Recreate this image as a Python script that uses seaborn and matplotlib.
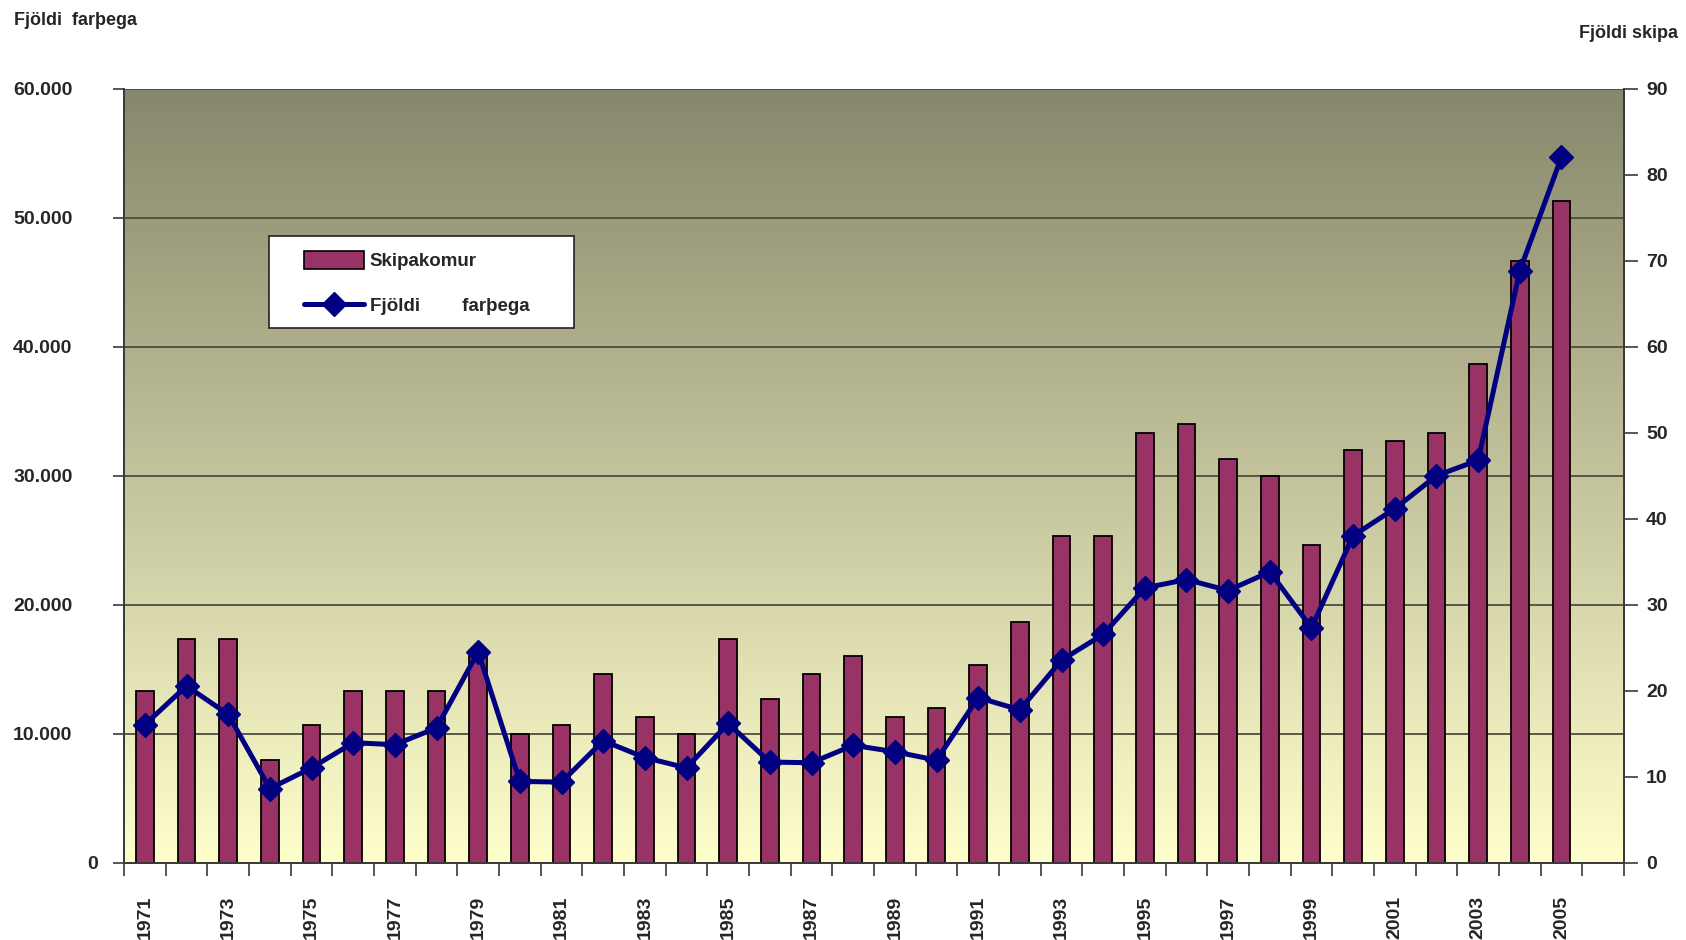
import numpy as np
import pandas as pd
import matplotlib
matplotlib.use("Agg")
import matplotlib.pyplot as plt
import seaborn as sns
from matplotlib.patches import Rectangle, Patch
from matplotlib.lines import Line2D
from matplotlib.transforms import ScaledTranslation

# ---------------- data ----------------
years = list(range(1971, 2006))
ships = [20, 26, 26, 12, 16, 20, 20, 20, 24, 15, 16, 22, 17, 15, 26, 19, 22, 24,
         17, 18, 23, 28, 38, 38, 50, 51, 47, 45, 37, 48, 49, 50, 58, 70, 77]
passengers = [10700, 13700, 11500, 5750, 7350, 9300, 9150, 10450, 16350, 6300,
              6250, 9450, 8150, 7350, 10800, 7800, 7750, 9100, 8600, 7950,
              12800, 11850, 15700, 17700, 21300, 21950, 21100, 22550, 18200,
              25350, 27450, 30000, 31200, 45900, 54700]
categories = [str(y) for y in range(1971, 2007)]  # last slot empty
left_ticks = [0, 10000, 20000, 30000, 40000, 50000, 60000]
right_ticks = [0, 10, 20, 30, 40, 50, 60, 70, 80, 90]
label_bars = "Skipakomur"
label_line = "Fjöldi        farþega"
title_left = "Fjöldi  farþega"
title_right = "Fjöldi skipa"

df = pd.DataFrame({"year": [str(y) for y in years], "ships": ships,
                   "passengers": passengers, "pos": np.arange(len(years))})

# ---------------- style ----------------
sns.set_theme(style="white")
plt.rcParams["font.family"] = ["Liberation Sans", "DejaVu Sans"]
plt.rcParams["font.weight"] = "bold"

W, H, DPI = 1686, 940, 100
fig = plt.figure(figsize=(W / DPI, H / DPI), dpi=DPI)
L, R, B, T = 124, 1624, 862.7, 88.7
ax = fig.add_axes([L / W, 1 - B / H, (R - L) / W, (B - T) / H])
ax2 = ax.twinx()

BAR_C = "#993366"
LINE_C = "#000080"
GRID_C = "#4d4d40"
SPINE_C = "#3a3a3a"
TICK_FS = 14

# background gradient
grad = np.linspace(0, 1, 256).reshape(-1, 1)
top_c = np.array([135, 135, 108]) / 255
bot_c = np.array([255, 255, 204]) / 255
img = (top_c * (1 - grad[..., None]) + bot_c * grad[..., None])  # row0 = top
ax.imshow(img, extent=(-0.5, 35.5, 0, 90), aspect="auto", origin="upper",
          zorder=0, interpolation="bicubic")

# gridlines (left-axis steps mapped to right scale)
for t in left_ticks[1:]:
    ax.axhline(t * 90 / 60000, color=GRID_C, lw=1.3, zorder=1)

# bars (right axis scale)
sns.barplot(data=df, x="year", y="ships", order=categories, ax=ax,
            color=BAR_C, saturation=1, width=0.42, edgecolor="black",
            linewidth=1.3, zorder=2, errorbar=None)

# line (left axis scale)
sns.lineplot(data=df, x="pos", y="passengers", ax=ax2, color=LINE_C,
             linewidth=3.6, marker="D", markersize=12, markeredgecolor=LINE_C,
             markeredgewidth=1, zorder=3)

# limits
ax.set_xlim(-0.5, 35.5)
ax.set_ylim(0, 90)
ax2.set_ylim(0, 60000)
ax2.set_xlim(-0.5, 35.5)

# axis positions: bars axis on right, line axis on left
ax.yaxis.tick_right()
ax.yaxis.set_label_position("right")
ax2.yaxis.tick_left()
ax2.yaxis.set_label_position("left")
for a in (ax, ax2):
    a.set_xlabel("")
    a.set_ylabel("")

ax.set_yticks(right_ticks)
ax.set_yticklabels([str(v) for v in right_ticks])
ax2.set_yticks(left_ticks)
ax2.set_yticklabels([f"{v:,}".replace(",", ".") for v in left_ticks])

# x ticks: labels on odd years at centers, tick marks at boundaries
label_pos = [i for i, c in enumerate(categories) if int(c) % 2 == 1 and int(c) <= 2005]
ax.set_xticks(label_pos)
ax.set_xticklabels([categories[i] for i in label_pos], rotation=90,
                   fontsize=TICK_FS, fontweight="bold")
ax.set_xticks(np.arange(-0.5, 36, 1), minor=True)
ax.tick_params(axis="x", which="major", length=0, pad=24)
ax.tick_params(axis="x", which="minor", length=9, width=1.2, color=SPINE_C,
               direction="out", bottom=True)
ax.tick_params(axis="y", which="major", length=10, width=1.2, color=SPINE_C,
               direction="out", pad=6, labelsize=TICK_FS, right=True, left=False,
               labelright=True, labelleft=False)
ax2.tick_params(axis="y", which="major", length=8, width=1.2, color=SPINE_C,
                direction="out", pad=29, labelsize=TICK_FS, left=True, right=False,
                labelleft=True, labelright=False)
ax2.tick_params(axis="x", which="both", bottom=False, labelbottom=False)
for lab in ax.get_yticklabels() + ax2.get_yticklabels():
    lab.set_fontweight("bold")

for a in (ax, ax2):
    a.grid(False)
    for s in a.spines.values():
        s.set_color(SPINE_C)
        s.set_linewidth(1.3)
    a.spines["top"].set_visible(False)

# shift "0" label on left axis to the right as in reference
zero_lab = ax2.get_yticklabels()[0]
zero_lab.set_transform(zero_lab.get_transform() +
                       ScaledTranslation(25 / DPI, 0, fig.dpi_scale_trans))

# legend with separate white frame
frame = Rectangle((269 / W, 1 - 328 / H), (574 - 269) / W, (328 - 236) / H,
                  transform=fig.transFigure, facecolor="white",
                  edgecolor="#222222", linewidth=1.2, zorder=4)
fig.patches.append(frame)
handles = [Patch(facecolor=BAR_C, edgecolor="black", linewidth=1.2),
           Line2D([0], [0], color=LINE_C, lw=3.6, marker="D", markersize=12)]
leg = fig.legend(handles, [label_bars, label_line], loc="upper left",
                 bbox_to_anchor=(291 / W, 1 - 238 / H), frameon=False,
                 prop={"weight": "bold", "size": 13.5}, handlelength=3.2,
                 handleheight=1.1, handletextpad=0.3, labelspacing=1.35,
                 borderpad=0.2)
leg.set_zorder(5)

# axis titles
fig.text(14 / W, 1 - 25 / H, title_left, ha="left", va="baseline",
         fontsize=13, fontweight="bold")
fig.text(1678 / W, 1 - 38 / H, title_right, ha="right", va="baseline",
         fontsize=13, fontweight="bold")

fig.savefig("out.png", dpi=DPI, facecolor="white")
